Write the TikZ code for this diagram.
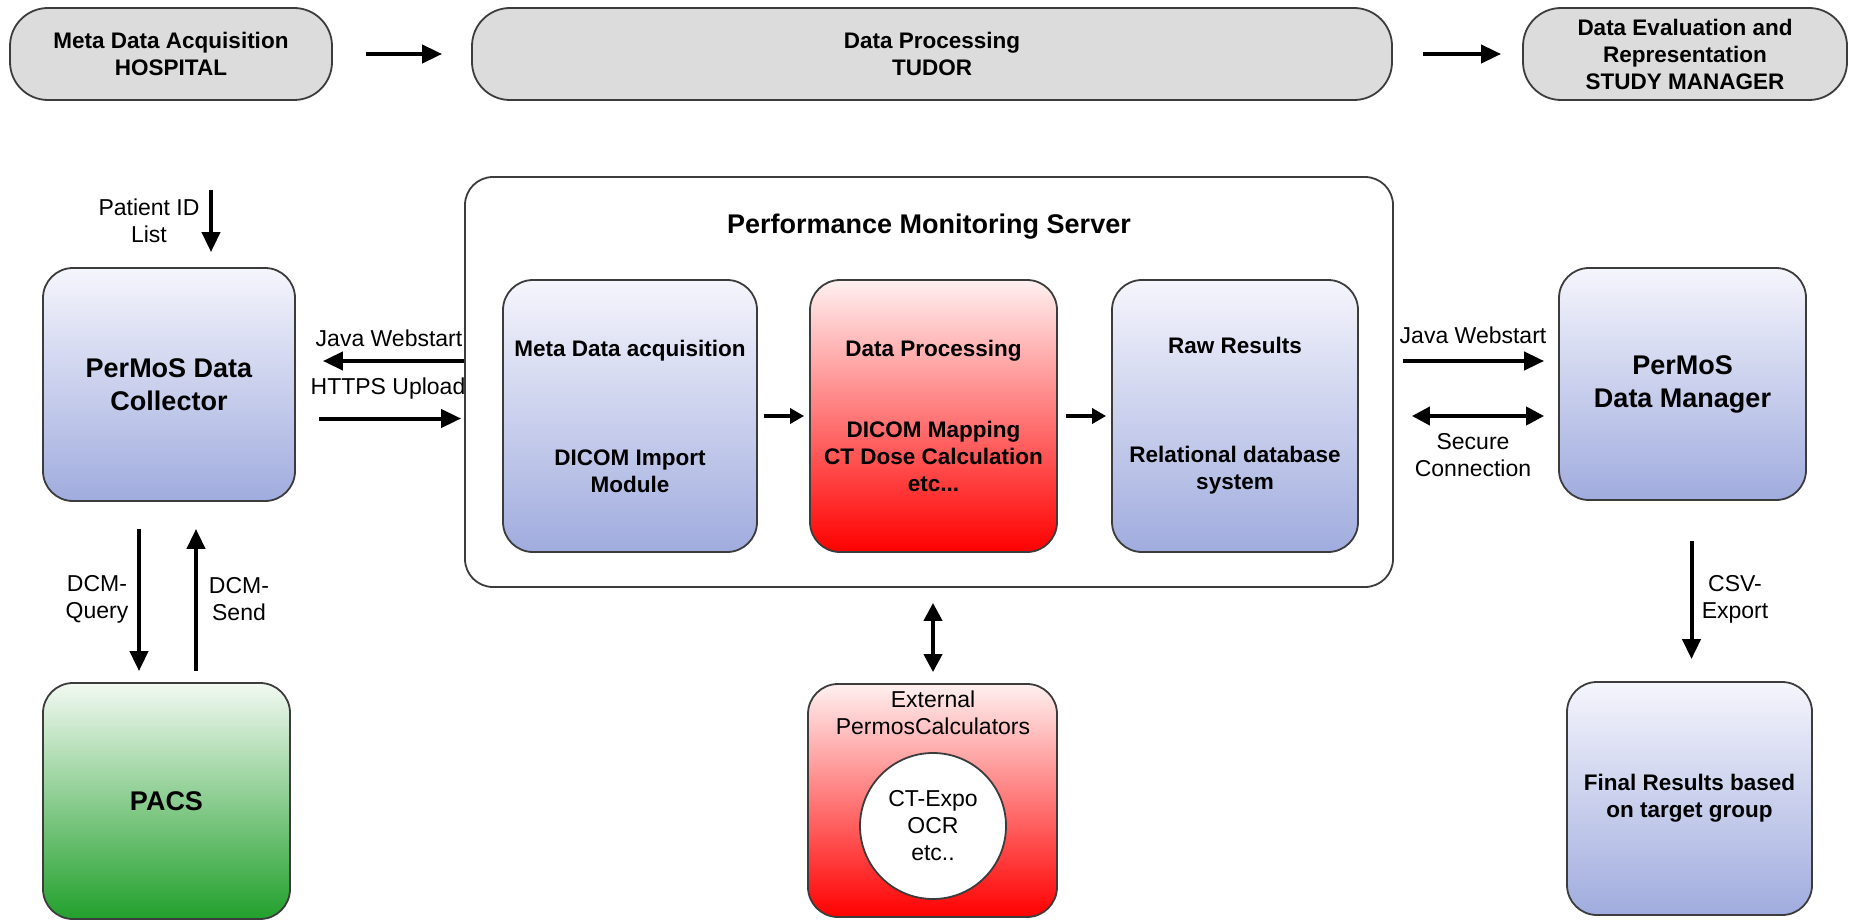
\documentclass[tikz,border=0pt]{standalone}
\usepackage{fontspec}
\setmainfont{Liberation Sans}
\usetikzlibrary{arrows.meta}
\definecolor{edgegray}{RGB}{60,60,60}
\definecolor{topgray}{RGB}{220,220,220}
\definecolor{bluetop}{RGB}{245,245,252}
\definecolor{bluebot}{RGB}{160,172,222}
\definecolor{redtop}{RGB}{255,240,240}
\definecolor{greentop}{RGB}{242,249,242}
\definecolor{greenbot}{RGB}{34,160,44}
\begin{document}
\begin{tikzpicture}[x=1pt,y=-1pt,
	box/.style={draw=edgegray,line width=1.8pt,rounded corners=30pt,align=center,inner sep=0pt},
	topbox/.style={box,fill=topgray,rounded corners=38pt,minimum height=92pt,font=\bfseries\fontsize{22.5}{27}\selectfont},
	bluebox/.style={box,top color=bluetop,bottom color=bluebot},
	redbox/.style={box,top color=redtop,bottom color=red},
	greenbox/.style={box,top color=greentop,bottom color=greenbot},
	bigbold/.style={font=\bfseries\fontsize{27}{33}\selectfont},
	smallbold/.style={font=\bfseries\fontsize{22.5}{27}\selectfont},
	lbl/.style={align=center,inner sep=0pt,font=\fontsize{23}{27}\selectfont},
	arr/.style={line width=4pt,-{Triangle[length=20pt,width=18pt]}},
	darr/.style={line width=4pt,{Triangle[length=18pt,width=18pt]}-{Triangle[length=18pt,width=18pt]}},
	sarr/.style={line width=4pt,-{Triangle[length=14pt,width=15pt]}}]
		\useasboundingbox (0,0) rectangle (1851,920);
		
		\node[topbox,minimum width=322pt] (hosp) at (171,54) {Meta Data Acquisition\\HOSPITAL};
		\node[topbox,minimum width=920pt] (tudor) at (932,54) {Data Processing\\TUDOR};
		\node[topbox,minimum width=324pt] (study) at (1685,54) {Data Evaluation and\\Representation\\STUDY MANAGER};
		\draw[arr][shorten <=33pt,shorten >=29pt](hosp)--(tudor);
		\draw[arr][shorten <=30pt,shorten >=21pt](tudor)--(study);
		
		\node[bluebox,bigbold,minimum width=252pt,minimum height=233pt] (coll) at (169,384.5) {PerMoS Data\\Collector};
		\node[box,fill=white,rounded corners=28pt,minimum width=928pt,minimum height=410pt] (srv) at (929,382) {};
		\node[bigbold] (srvtitle) at (929,227) {Performance Monitoring Server};
		\node[bluebox,smallbold,minimum width=254pt,minimum height=272pt] (meta) at (630,416) {Meta Data acquisition\\[82pt]DICOM Import\\Module};
		\node[redbox,smallbold,minimum width=247pt,minimum height=272pt] (proc) at (933.5,416) {Data Processing\\[54pt]DICOM Mapping\\CT Dose Calculation\\etc...};
		\node[bluebox,smallbold,minimum width=246pt,minimum height=272pt] (raw) at (1235,416) {Raw Results\\[82pt]Relational database\\system};
		\node[bluebox,bigbold,minimum width=247pt,minimum height=232pt] (dm) at (1682.5,384) {PerMoS\\Data Manager};
		
		\draw[sarr][shorten <=6pt,shorten >=5pt](meta)--(proc);
		\draw[sarr][shorten <=8pt,shorten >=5pt](proc)--(raw);
		
		\coordinate (pin) at (211,190);
		\node[lbl] (pinlbl) at (149,221) {Patient ID\\List};
		\draw[arr][shorten >=15pt](pin)--(pin |- coll.north);
		
		\draw[arr][shorten >=27pt]([yshift=21pt]srv.west)--([yshift=21pt]srv.west -| coll.east);
		\draw[arr][shorten <=23pt,shorten >=3pt]([yshift=-34pt]coll.east)--([yshift=-34pt]coll.east -| srv.west);
		\node[lbl] (javal) at (389,338) {Java Webstart};
		\node[lbl] (https) at (388,389) {HTTPS Upload};
		
		\draw[arr][shorten <=9pt,shorten >=14pt]([yshift=21pt]srv.east)--([yshift=21pt]srv.east -| dm.west);
		\draw[darr][shorten <=18pt,shorten >=14pt]([yshift=-34pt]srv.east)--([yshift=-34pt]srv.east -| dm.west);
		\node[lbl] (javar) at (1473,335) {Java Webstart};
		\node[lbl] (secure) at (1473,455) {Secure\\Connection};
		
		\node[greenbox,bigbold,minimum width=247pt,minimum height=236pt] (pacs) at (166.5,801) {PACS};
		\draw[arr][shorten <=27pt,shorten >=11pt]([xshift=-30pt]coll.south)--([xshift=-30pt]coll.south |- pacs.north);
		\draw[arr][shorten <=11pt,shorten >=27pt]([xshift=27pt]coll.south |- pacs.north)--([xshift=27pt]coll.south);
		\node[lbl] (query) at (97,599) {DCM-\\Query};
		\node[lbl] (send) at (239,599) {DCM-\\Send};
		
		\node[redbox,minimum width=249pt,minimum height=233pt] (ext) at (932.5,800.5) {};
		\node[lbl] (extlbl) at (933,713) {External\\PermosCalculators};
		\node[circle,draw=edgegray,line width=1.8pt,fill=white,minimum size=146pt,lbl] (calc) at (933,826) {CT-Expo\\OCR\\etc..};
		\draw[darr][shorten <=15pt,shorten >=11pt]([xshift=4pt]srv.south)--([xshift=4pt]srv.south |- ext.north);
		
		\node[bluebox,smallbold,minimum width=245pt,minimum height=233pt] (fin) at (1689.5,798.5) {Final Results based\\on target group};
		\draw[arr][shorten <=40pt,shorten >=22pt]([xshift=9pt]dm.south)--([xshift=9pt]dm.south |- fin.north);
		\node[lbl] (csv) at (1735,599) {CSV-\\Export};
\end{tikzpicture}
\end{document}
